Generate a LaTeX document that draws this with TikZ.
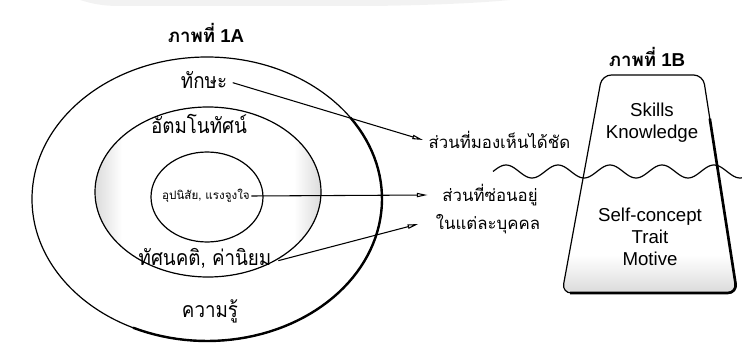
\documentclass[tikz,border=0pt]{standalone}
\usepackage{fontspec}
\setmainfont{Liberation Sans}
\newfontfamily\thai[Script=Thai]{Loma}
\newfontfamily\thaic[Script=Thai, FakeStretch=0.88]{Loma}
\usetikzlibrary{arrows.meta,calc}
\pgfdeclarehorizontalshading{ringshade}{100bp}{color(0bp)=(gray!28); color(25bp)=(gray!28); color(31bp)=(white); color(69bp)=(white); color(75bp)=(gray!28); color(100bp)=(gray!28)}
\tikzset{
  th/.style={font=\thai\fontsize{12.6}{15}\selectfont, inner sep=1pt},
  thc/.style={font=\thaic\fontsize{16}{18}\selectfont, inner sep=1pt},
  en/.style={font=\fontsize{14}{16.5}\selectfont, inner sep=1pt, align=center},
  ttl/.style={font=\fontsize{14}{16}\selectfont\bfseries, inner sep=1pt},
  arr/.style={line width=0.8pt, -{Triangle[open, length=8pt, width=3.2pt]}},
  ln/.style={line width=0.9pt},
}
\begin{document}
\begin{tikzpicture}[x=0.75pt, y=-0.75pt]
\useasboundingbox (0,0) rectangle (742,349);
% faint scan band
\fill[gray!10] (80,0) -- (510,0) .. controls (470,4) and (400,6) .. (360,6) -- (120,6) .. controls (100,6) and (90,3) .. (80,0) -- cycle;
% 1A ellipses
\fill[shading=ringshade] (208,192) ellipse [x radius=113, y radius=85];
\fill[white] (207,197) ellipse [x radius=56, y radius=45];
\draw[ln] (207,199) ellipse [x radius=175, y radius=142];
\draw[line width=1.8pt] plot[domain=-35:115, samples=60] ({207+175*cos(\x)}, {199+142*sin(\x)});
\draw[ln] (208,192) ellipse [x radius=113, y radius=85];
\draw[ln] (207,197) ellipse [x radius=56, y radius=45];
% titles
\node[ttl] (t1a) at (206,33) {{\thai ภาพที่} 1A};
\node[ttl] (t1b) at (647,57) {{\thai ภาพที่} 1B};
% 1A labels
\node[thc] (tk) at (204,80) {ทักษะ};
\node[thc] (at) at (199,124) {อัตมโนทัศน์};
\node[th, font=\thai\fontsize{8.7}{10}\selectfont] (up) at (206,196) {อุปนิสัย, แรงจูงใจ};
\node[thc] (ts) at (205,258) {ทัศนคติ, ค่านิยม};
\node[thc] (kr) at (210,311) {ความรู้};
% right labels
\node[th, anchor=west] (vis) at (427,140) {ส่วนที่มองเห็นได้ชัด};
\node[th] (h1) at (490,195) {ส่วนที่ซ่อนอยู่};
\node[th] (h2) at (488,224) {ในแต่ละบุคคล};
% arrows
\draw[arr] ([xshift=3pt,yshift=-2pt]tk.east) -- ([xshift=-3pt]vis.west);
\draw[arr] (up.east) -- ([xshift=-10pt]h1.west);
\draw[arr] ([xshift=4pt,yshift=-2pt]ts.east) -- ([xshift=-12pt]h2.west);
% 1B trapezoid
\begin{scope}
\clip[rounded corners=7pt] (602,75) -- (703,75) -- (737,293) -- (562,293) -- cycle;
\shade[top color=white, bottom color=gray!30] (550,255) rectangle (745,295);
\end{scope}
\draw[ln, rounded corners=7pt] (602,75) -- (703,75) -- (737,293) -- (562,293) -- cycle;
\draw[line width=2pt, rounded corners=7pt] ($(703,75)!0.2!(737,293)$) -- (737,293) -- (570,293);
% wave
\draw[line width=0.9pt] plot[domain=493:742, samples=120, smooth] (\x, {171.5-6.5*sin((\x-493)/52*360)});
% 1B text
\node[en] (sk) at (652,123) {Skills\\Knowledge};
\node[en] (sc) at (650,237) {Self-concept\\Trait\\Motive};
\end{tikzpicture}
\end{document}
